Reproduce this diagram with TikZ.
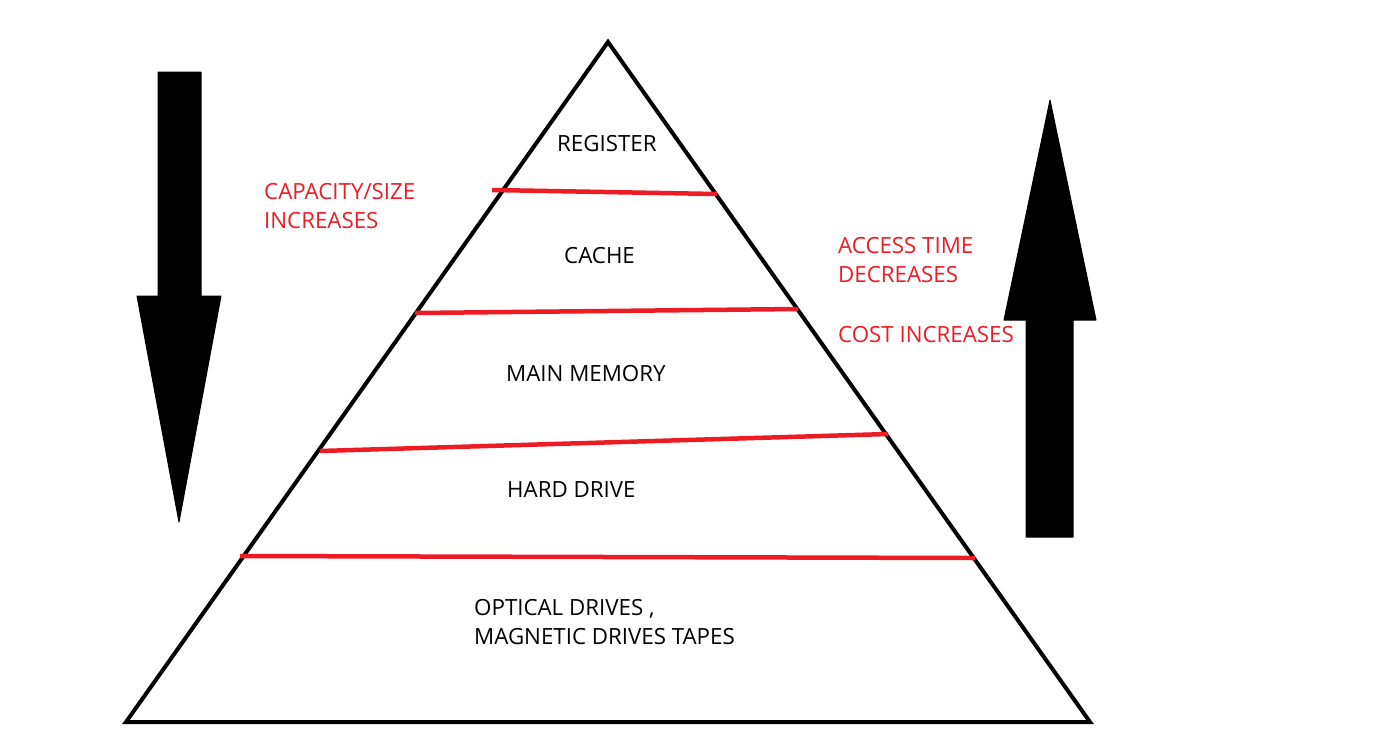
\documentclass[tikz,border=0pt]{standalone}
\usepackage{fontspec}
\setmainfont{Open Sans}
\definecolor{paintred}{RGB}{237,28,36}
\tikzset{
  lbl/.style={anchor=base west, inner sep=0pt, font=\fontsize{22.3}{29}\selectfont},
  blk/.style={lbl, text=black},
  rd/.style={lbl, text=paintred},
  level/.style={draw=paintred, line width=4.5pt},
  fatarrow/.style={fill=black, draw=black, line width=1pt, line join=round},
}
\begin{document}
\begin{tikzpicture}[x=1pt,y=-1pt]
\useasboundingbox (0,0) rectangle (1398,748);
% pyramid
\coordinate (apex) at (608,42);
\coordinate (bl) at (126,722);
\coordinate (br) at (1090,722);
\draw[line width=4pt, line join=miter] (apex) -- (bl) -- (br) -- cycle;
% level lines
\draw[level] (492,190) -- (717,194);
\draw[level] (415,313) -- (798,309);
\draw[level] (320,451) -- (888,434);
\draw[level] (240,556) -- (975,558);
% arrows
\draw[fatarrow] (158,72) -- (201,72) -- (201,296) -- (221,296) -- (179,522) -- (137,296) -- (158,296) -- cycle;
\draw[fatarrow] (1026,537) -- (1073,537) -- (1073,320) -- (1096,320) -- (1050,100) -- (1004,320) -- (1026,320) -- cycle;
% labels
\node[blk] (reg) at (557,151) {REGISTER};
\node[blk] (cache) at (564,263) {CACHE};
\node[blk] (main) at (506,381) {MAIN MEMORY};
\node[blk] (hard) at (507,497) {HARD DRIVE};
\node[blk] (opt1) at (474,615) {OPTICAL DRIVES ,};
\node[blk] (opt2) at (474,644) {MAGNETIC DRIVES TAPES};
\node[rd] (cap1) at (264,199) {CAPACITY/SIZE};
\node[rd] (cap2) at (264,228) {INCREASES};
\node[rd] (acc1) at (838,253) {ACCESS TIME};
\node[rd] (acc2) at (838,282) {DECREASES};
\node[rd] (cost) at (838,342) {COST INCREASES};
\end{tikzpicture}
\end{document}
